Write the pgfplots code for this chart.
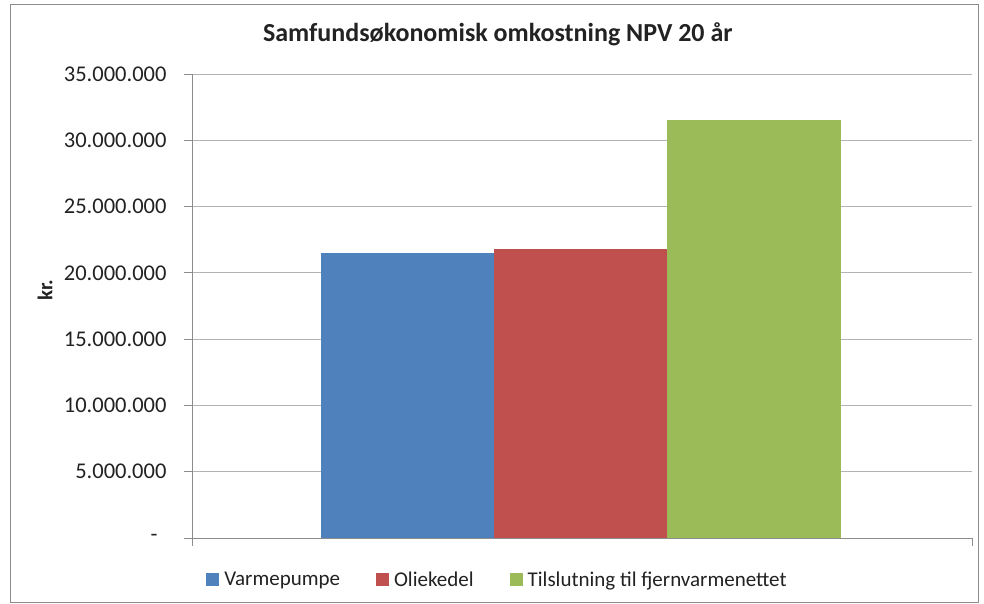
\documentclass[border=0pt]{standalone}
\usepackage{fontspec}
\setmainfont{Carlito}
\usepackage{pgfplots}
\pgfplotsset{compat=1.18}
\definecolor{exblue}{HTML}{4F81BD}
\definecolor{exred}{HTML}{C0504D}
\definecolor{exgreen}{HTML}{9BBB59}
\definecolor{gridc}{HTML}{B3B3B3}
\definecolor{axc}{HTML}{8C8C8C}
\definecolor{txt}{HTML}{222222}
\begin{document}
\begin{tikzpicture}[x=1pt,y=1pt]
\useasboundingbox (0,0) rectangle (984,-604);
\draw[axc, line width=1pt] (10,-5) rectangle (978,-602);
\begin{axis}[
  at={(192pt,-538pt)}, anchor=south west,
  width=780pt, height=464pt, scale only axis,
  xmin=0, xmax=1, ymin=0, ymax=35000000,
  axis x line*=bottom, axis y line*=left,
  axis line style={-, axc, line width=0.8pt},
  ytick={0,5000000,10000000,15000000,20000000,25000000,30000000,35000000},
  yticklabels={-\hspace*{9pt},5.000.000,10.000.000,15.000.000,20.000.000,25.000.000,30.000.000,35.000.000},
  scaled y ticks=false,
  xtick={0,1}, xticklabels={,},
  tick align=outside, major tick length=8pt,
  tick style={axc, line width=0.8pt},
  ymajorgrids, grid style={gridc, line width=0.8pt},
  ybar, bar width=0.2222, bar shift=0pt,
  ticklabel style={font=\fontsize{22.5}{27}\selectfont, text=txt},
  yticklabel style={xshift=-14pt},
  title={Samfundsøkonomisk omkostning NPV 20 år},
  title style={at={(0.392,1.073)}, anchor=center, font=\bfseries\fontsize{26}{31}\selectfont, text=txt},
  ylabel={kr.},
  ylabel style={at={(-0.1885,0.534)}, anchor=center, rotate=0, font=\bfseries\fontsize{21}{25}\selectfont, text=txt},
  legend style={at={(0.3917,-0.0905)}, anchor=center, draw=none, legend columns=-1,
    font=\fontsize{21}{25}\selectfont, text=txt,
    /tikz/every odd column/.append style={column sep=3pt},
    /tikz/every even column/.append style={column sep=34pt}},
  legend image code/.code={\fill[#1] (0pt,-6.5pt) rectangle (13pt,6.5pt);},
]
\addplot[fill=exblue, draw=none] coordinates {(0.2763,21470000)};
\addlegendentry{Varmepumpe}
\addplot[fill=exred, draw=none] coordinates {(0.4985,21770000)};
\addlegendentry{Oliekedel}
\addplot[fill=exgreen, draw=none] coordinates {(0.7207,31510000)};
\addlegendentry{Tilslutning til fjernvarmenettet}
\end{axis}
\end{tikzpicture}
\end{document}
